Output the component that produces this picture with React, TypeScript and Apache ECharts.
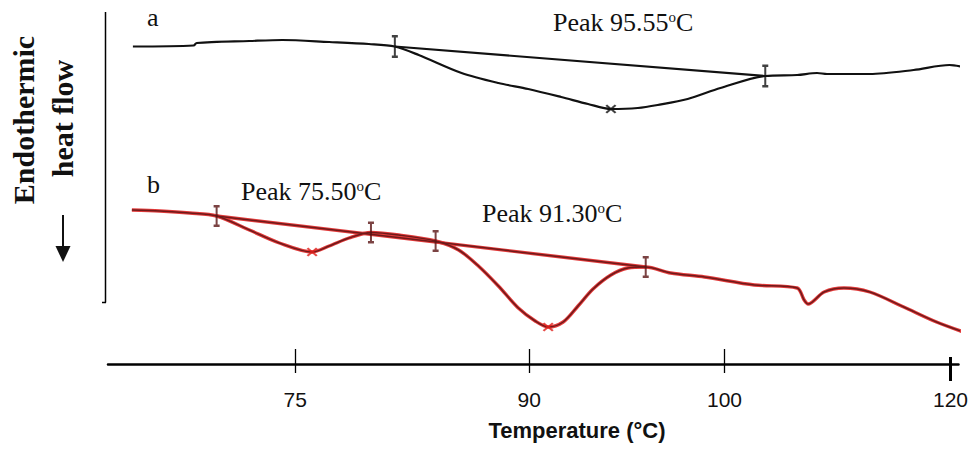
import React, { useEffect, useRef } from 'react';
import * as echarts from 'echarts';

// x axis nominal scale: tick positions and their printed labels
const tickValues = [75, 91.07, 104.48, 120];
const tickLabels = ['75', '90', '100', '120'];
const xMin = 62.14;
const xMax = 120.55;

// Curve a (black)
const curveA: number[][] = [
  [63.85, 31.75], [68.02, 31.85], [68.23, 32.1], [71.85, 32.3], [74.11, 32.4], [77.33, 32.2],
  [80.06, 32.0], [81.84, 31.75], [83.48, 30.9], [86.42, 29.1], [88.95, 28.1], [91.0, 27.5],
  [93.26, 26.7], [95.11, 26.0], [96.68, 25.5], [98.53, 25.6], [99.89, 25.9], [101.95, 26.5],
  [104.2, 27.6], [107.28, 28.8], [109.47, 28.9], [110.84, 29.1], [111.52, 29.0], [114.46, 29.0],
  [117.47, 29.4], [119.93, 29.9], [121.09, 29.6],
];
const baselineA: number[][] = [[81.84, 31.75], [107.28, 28.8]];
const limitsA: number[][] = [[81.84, 31.75], [107.28, 28.8]];
const peakA: number[][] = [[96.68, 25.5]];

// Curve b (red)
const curveB: number[][] = [
  [63.78, 15.4], [65.7, 15.3], [67.75, 15.1], [69.6, 14.8], [71.85, 13.4], [73.91, 12.1],
  [76.16, 11.2], [77.33, 11.8], [78.69, 12.6], [80.2, 13.15], [82.11, 12.9], [84.64, 12.3],
  [86.22, 11.4], [87.58, 9.8], [88.95, 7.8], [90.32, 5.6], [91.48, 4.3], [92.37, 3.7],
  [93.4, 4.2], [94.42, 5.8], [95.45, 7.5], [96.68, 8.9], [97.84, 9.6], [99.07, 9.7],
  [100.78, 9.1], [103.11, 8.7], [106.53, 7.9], [109.47, 7.6], [109.95, 6.4], [110.22, 6.0],
  [111.32, 7.2], [112.68, 7.6], [114.46, 7.2], [116.79, 5.7], [119.04, 4.2], [121.09, 3.1],
];
const baselineB: number[][] = [[69.6, 14.8], [99.07, 9.7]];
const limitsB: number[][] = [[69.6, 14.8], [80.2, 13.15], [84.64, 12.3], [99.07, 9.7]];
const peakB: number[][] = [[76.16, 11.2], [92.37, 3.7]];

const peakTexts = ['Peak 95.55', 'Peak 75.50', 'Peak 91.30'];
const curveNames = ['a', 'b'];

const IBEAM = 'path://M0,0H6V2.5H4V19.5H6V22H0V19.5H2V2.5H0Z';
const CROSS = 'path://M0,1.5L1.5,0L5,3.5L8.5,0L10,1.5L6.5,5L10,8.5L8.5,10L5,6.5L1.5,10L0,8.5L3.5,5Z';

const serif = 'Liberation Serif';
const sans = 'Liberation Sans';

function peakLabel(text: string, x: number, y: number) {
  return {
    type: 'text',
    x,
    y,
    style: {
      text: `{t|${text}}{s|o}{t|C}`,
      align: 'left',
      verticalAlign: 'middle',
      fill: '#111',
      rich: {
        t: { fontFamily: serif, fontSize: 26, lineHeight: 30, fill: '#111' },
        s: { fontFamily: serif, fontSize: 15, lineHeight: 15, verticalAlign: 'top', fill: '#111', padding: [2, 0, 0, 0] },
      },
    },
  };
}

export default function App() {
  const ref = useRef<HTMLDivElement>(null);
  useEffect(() => {
    if (!ref.current) return;
    const chart = echarts.init(ref.current, undefined, { renderer: 'svg' });
    const fmt = (v: number) => {
      const i = tickValues.findIndex((t) => Math.abs(t - v) < 1e-6);
      return i >= 0 ? tickLabels[i] : '';
    };
    const axisBase = {
      type: 'value',
      min: xMin,
      max: xMax,
      gridIndex: 0,
      position: 'bottom',
      offset: 0,
      splitLine: { show: false },
    };
    const lineBase = { type: 'line', symbol: 'none', clip: false };
    const option: any = {
      animation: false,
      backgroundColor: '#fff',
      grid: { left: 108, right: 9, top: 12, bottom: 86, containLabel: false },
      xAxis: [
        {
          ...axisBase,
          axisLine: { show: true, lineStyle: { color: '#000', width: 2.5 } },
          axisTick: { show: true, customValues: tickValues.slice(0, 3), length: 9, inside: false, lineStyle: { color: '#000', width: 1.3 } },
          axisLabel: {
            show: true,
            customValues: tickValues,
            formatter: fmt,
            fontFamily: sans,
            fontSize: 21,
            color: '#111',
            margin: 25,
          },
        },
        {
          ...axisBase,
          axisLine: { show: false },
          axisTick: { show: true, customValues: tickValues.slice(0, 3), length: 15, inside: true, lineStyle: { color: '#000', width: 1.3 } },
          axisLabel: { show: false },
        },
        {
          ...axisBase,
          axisLine: { show: false },
          axisTick: { show: true, customValues: tickValues.slice(3), length: 17, inside: false, lineStyle: { color: '#000', width: 3 } },
          axisLabel: { show: false },
        },
        {
          ...axisBase,
          axisLine: { show: false },
          axisTick: { show: true, customValues: tickValues.slice(3), length: 7, inside: true, lineStyle: { color: '#000', width: 3 } },
          axisLabel: { show: false },
        },
      ],
      yAxis: { type: 'value', min: 0, max: 35.2, show: false },
      series: [
        { ...lineBase, name: 'a', data: curveA, smooth: 0.3, lineStyle: { color: '#111', width: 2.2 } },
        { ...lineBase, name: 'a baseline', data: baselineA, lineStyle: { color: '#111', width: 2.2 } },
        { ...lineBase, name: 'b halo', data: curveB, smooth: 0.3, lineStyle: { color: '#e23a3a', width: 3.4 } },
        { ...lineBase, name: 'b baseline halo', data: baselineB, lineStyle: { color: '#e23a3a', width: 3.4 } },
        { ...lineBase, name: 'b', data: curveB, smooth: 0.3, lineStyle: { color: '#6e1a1a', width: 1.5 } },
        { ...lineBase, name: 'b baseline', data: baselineB, lineStyle: { color: '#6e1a1a', width: 1.5 } },
        {
          name: 'a limits', type: 'scatter', data: limitsA, symbol: IBEAM, symbolSize: [6, 23],
          itemStyle: { color: '#111' }, z: 5,
        },
        {
          name: 'a peak', type: 'scatter', data: peakA, symbol: CROSS, symbolSize: [11, 9],
          itemStyle: { color: '#111' }, z: 5,
        },
        {
          name: 'b limits', type: 'scatter', data: limitsB, symbol: IBEAM, symbolSize: [6, 22],
          itemStyle: { color: '#5a1414' }, z: 5,
        },
        {
          name: 'b peak', type: 'scatter', data: peakB, symbol: CROSS, symbolSize: [11, 9],
          itemStyle: { color: '#e0201c' }, z: 5,
        },
      ],
      graphic: [
        // y axis line
        { type: 'line', shape: { x1: 105.5, y1: 12, x2: 105.5, y2: 302.5 }, style: { stroke: '#000', lineWidth: 1.5 } },
        { type: 'line', shape: { x1: 102, y1: 302.5, x2: 106, y2: 302.5 }, style: { stroke: '#000', lineWidth: 1.5 } },
        // y axis title
        {
          type: 'text', x: 23, y: 120, rotation: Math.PI / 2,
          style: { text: 'Endothermic', fontFamily: serif, fontWeight: 'bold', fontSize: 30, fill: '#111', align: 'center', verticalAlign: 'middle' },
        },
        {
          type: 'text', x: 62, y: 118.5, rotation: Math.PI / 2,
          style: { text: 'heat flow', fontFamily: serif, fontWeight: 'bold', fontSize: 30, fill: '#111', align: 'center', verticalAlign: 'middle' },
        },
        { type: 'line', shape: { x1: 63, y1: 215, x2: 63, y2: 250 }, style: { stroke: '#111', lineWidth: 2 } },
        { type: 'polygon', shape: { points: [[55.5, 246], [70.5, 246], [63, 262]] }, style: { fill: '#111' } },
        // curve letters
        { type: 'text', x: 147, y: 17.7, style: { text: curveNames[0], fontFamily: serif, fontSize: 26, fill: '#111', align: 'left', verticalAlign: 'middle' } },
        { type: 'text', x: 147, y: 184.3, style: { text: curveNames[1], fontFamily: serif, fontSize: 26, fill: '#111', align: 'left', verticalAlign: 'middle' } },
        peakLabel(peakTexts[0], 553, 22.7),
        peakLabel(peakTexts[1], 241, 191),
        peakLabel(peakTexts[2], 482, 213.7),
        // x axis title
        {
          type: 'text', x: 577, y: 430,
          style: { text: 'Temperature (°C)', fontFamily: sans, fontWeight: 'bold', fontSize: 22, fill: '#111', align: 'center', verticalAlign: 'middle' },
        },
      ],
    };
    chart.setOption(option);
    return () => chart.dispose();
  }, []);
  return (
    <div
      ref={ref}
      style={{ position: 'fixed', left: 0, top: 0, width: 971, height: 450, background: '#fff' }}
    />
  );
}
